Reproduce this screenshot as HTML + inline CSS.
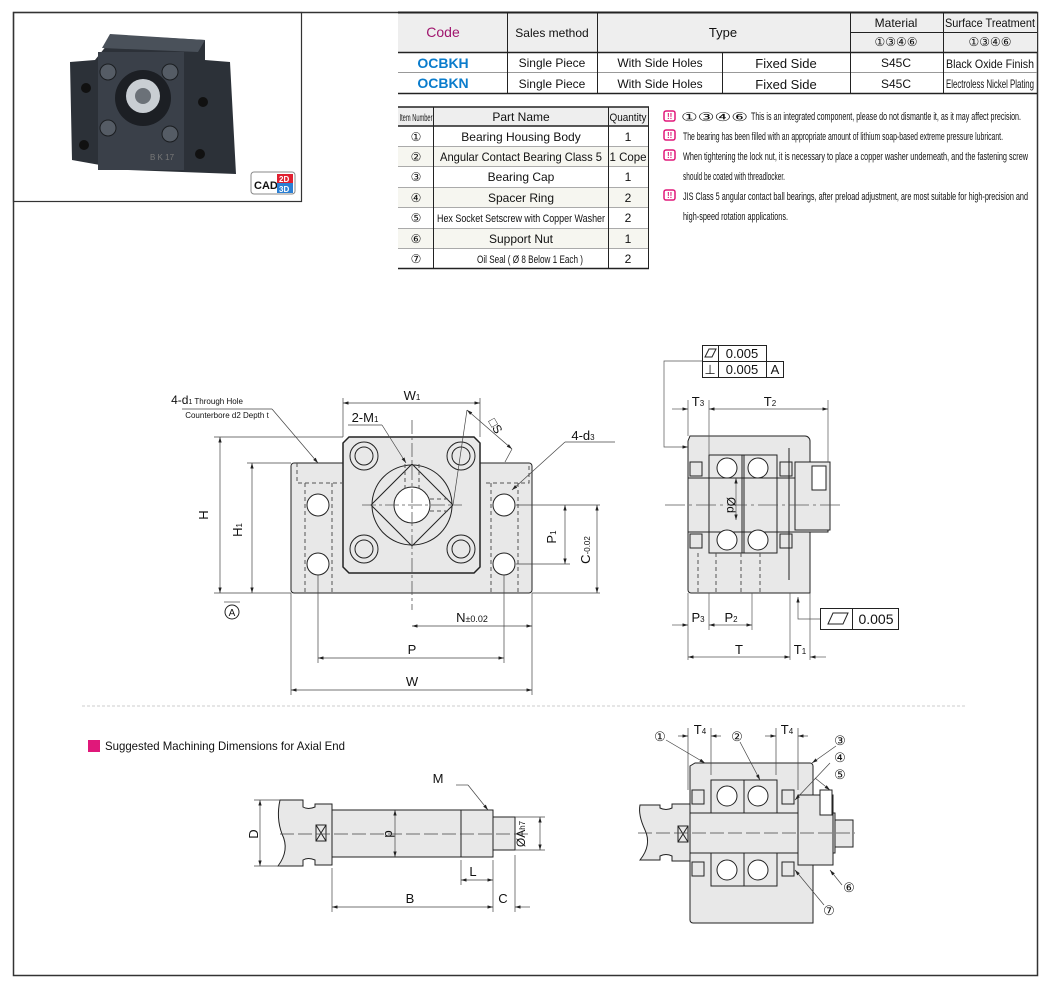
<!DOCTYPE html>
<html><head><meta charset="utf-8"><style>
body{margin:0;background:#fff;}
svg{display:block;font-family:"Liberation Sans",sans-serif;}
</style></head><body>
<svg width="1060" height="996" viewBox="0 0 1060 996" xmlns="http://www.w3.org/2000/svg">
<defs>
<marker id="a" viewBox="0 0 10 6" refX="10" refY="3" markerWidth="8" markerHeight="5" orient="auto-start-reverse"><path d="M0,0L10,3L0,6z" fill="#222"/></marker>
</defs>
<rect x="13.5" y="12.5" width="1024" height="963" fill="none" stroke="#333" stroke-width="1.5"/>
<rect x="13.5" y="12.5" width="288" height="189" fill="none" stroke="#333" stroke-width="1.2"/>
<!-- photo -->
<g>
<polygon points="115,35 205,40 205,60 230,62 236,174 128,170 72,160 70,62 95,60" fill="#2c3138"/>
<rect x="98" y="52" width="86" height="118" fill="#3a4049"/>
<polygon points="110,34 205,40 198,52 102,48" fill="#4a515a"/>
<circle cx="143" cy="98" r="28" fill="#1c1f24"/>
<circle cx="143" cy="96" r="17" fill="#c9ced3"/>
<circle cx="143" cy="96" r="8" fill="#6b7178"/>
<circle cx="108" cy="72" r="8" fill="#555c65" stroke="#1a1d20"/><circle cx="170" cy="72" r="8" fill="#555c65" stroke="#1a1d20"/>
<circle cx="108" cy="128" r="8" fill="#555c65" stroke="#1a1d20"/><circle cx="170" cy="134" r="8" fill="#555c65" stroke="#1a1d20"/>
<circle cx="86" cy="88" r="5" fill="#111"/><circle cx="84" cy="145" r="5" fill="#111"/>
<circle cx="203" cy="102" r="5" fill="#111"/><circle cx="200" cy="154" r="5" fill="#111"/>
<text x="150" y="160" font-size="8" fill="#777">B K 17</text>
<rect x="251" y="172" width="44" height="22" rx="3" fill="#fff" stroke="#888"/>
<text x="254" y="189" font-size="11" font-weight="bold" fill="#111">CAD</text>
<rect x="277" y="174" width="16" height="9" fill="#e02030"/><rect x="277" y="183" width="16" height="10" fill="#2a7fd4"/>
<text x="279" y="182" font-size="8" font-weight="bold" fill="#fff">2D</text><text x="279" y="192" font-size="8" font-weight="bold" fill="#fff">3D</text>
</g>
<!-- top table -->
<g font-size="12" fill="#111" text-anchor="middle">
<rect x="398" y="12" width="639" height="40" fill="#eee"/>
<g stroke="#222" stroke-width="1" fill="none">
<line x1="398" y1="12.5" x2="1037" y2="12.5" stroke-width="2"/>
<line x1="398" y1="52.5" x2="1037" y2="52.5" stroke-width="1.5"/>
<line x1="398" y1="72.5" x2="1037" y2="72.5" stroke="#999"/>
<line x1="398" y1="93.5" x2="1037" y2="93.5" stroke-width="1.5"/>
<line x1="850" y1="32.5" x2="1037" y2="32.5"/>
<line x1="507.5" y1="12" x2="507.5" y2="93"/><line x1="597.5" y1="12" x2="597.5" y2="93"/>
<line x1="722.5" y1="52" x2="722.5" y2="93"/><line x1="850.5" y1="12" x2="850.5" y2="93"/><line x1="943.5" y1="12" x2="943.5" y2="93"/>
</g>
<text x="443" y="37" fill="#a0166e" font-size="14">Code</text>
<text x="552" y="37">Sales method</text>
<text x="723" y="37" font-size="13">Type</text>
<text x="896" y="27">Material</text><text x="990" y="27" font-size="12" textLength="90" lengthAdjust="spacingAndGlyphs">Surface Treatment</text>
<text x="896" y="46">①③④⑥</text><text x="990" y="46">①③④⑥</text>
<g font-weight="bold" fill="#0a7ccc" font-size="14"><text x="443" y="68">OCBKH</text><text x="443" y="88">OCBKN</text></g>
<text x="552" y="67">Single Piece</text><text x="552" y="88">Single Piece</text>
<text x="660" y="67">With Side Holes</text><text x="660" y="88">With Side Holes</text>
<text x="786" y="68" font-size="13">Fixed Side</text><text x="786" y="89" font-size="13">Fixed Side</text>
<text x="896" y="67">S45C</text><text x="896" y="88">S45C</text>
<text x="990" y="68" font-size="12" textLength="88" lengthAdjust="spacingAndGlyphs">Black Oxide Finish</text><text x="990" y="88" font-size="12" textLength="88" lengthAdjust="spacingAndGlyphs">Electroless Nickel Plating</text>
</g>
<!-- parts table -->
<g font-size="12" fill="#111" text-anchor="middle">
<rect x="398" y="107" width="251" height="19" fill="#eee"/>
<rect x="398" y="146" width="251" height="20" fill="#f6f6f0"/><rect x="398" y="187" width="251" height="20" fill="#f6f6f0"/><rect x="398" y="228" width="251" height="20" fill="#f6f6f0"/>
<g stroke="#222" fill="none">
<line x1="398" y1="107" x2="649" y2="107" stroke-width="1.5"/><line x1="398" y1="126" x2="649" y2="126" stroke-width="1.5"/>
<line x1="398" y1="268.5" x2="649" y2="268.5" stroke-width="1.5"/>
<g stroke="#aaa"><line x1="398" y1="146.5" x2="649" y2="146.5"/><line x1="398" y1="166.5" x2="649" y2="166.5"/><line x1="398" y1="187.5" x2="649" y2="187.5"/><line x1="398" y1="207.5" x2="649" y2="207.5"/><line x1="398" y1="228.5" x2="649" y2="228.5"/><line x1="398" y1="248.5" x2="649" y2="248.5"/></g>
<line x1="433.5" y1="107" x2="433.5" y2="268"/><line x1="608.5" y1="107" x2="608.5" y2="268"/><line x1="648.5" y1="107" x2="648.5" y2="268"/>
</g>
<text x="416" y="121" font-size="10" textLength="33" lengthAdjust="spacingAndGlyphs">Item Number</text><text x="521" y="121">Part Name</text><text x="628" y="121" font-size="11" textLength="37" lengthAdjust="spacingAndGlyphs">Quantity</text>
<text x="416" y="141">①</text><text x="521" y="141">Bearing Housing Body</text><text x="628" y="141">1</text>
<text x="416" y="161">②</text><text x="521" y="161" font-size="12" textLength="162" lengthAdjust="spacingAndGlyphs">Angular Contact Bearing Class 5</text><text x="628" y="161" font-size="12" textLength="37" lengthAdjust="spacingAndGlyphs">1 Cope</text>
<text x="416" y="181">③</text><text x="521" y="181">Bearing Cap</text><text x="628" y="181">1</text>
<text x="416" y="202">④</text><text x="521" y="202">Spacer Ring</text><text x="628" y="202">2</text>
<text x="416" y="222">⑤</text><text x="521" y="222" font-size="11" textLength="168" lengthAdjust="spacingAndGlyphs">Hex Socket Setscrew with Copper Washer</text><text x="628" y="222">2</text>
<text x="416" y="243">⑥</text><text x="521" y="243">Support Nut</text><text x="628" y="243">1</text>
<text x="416" y="263">⑦</text><text x="530" y="263" font-size="11" textLength="106" lengthAdjust="spacingAndGlyphs">Oil Seal ( Ø 8 Below 1 Each )</text><text x="628" y="263">2</text>
</g>
<!-- notes -->
<g font-size="11" fill="#111">
<g fill="none" stroke="#e0187a" stroke-width="1.5"><rect x="664" y="111" width="11" height="10" rx="2"/><rect x="664" y="130" width="11" height="10" rx="2"/><rect x="664" y="150" width="11" height="10" rx="2"/><rect x="664" y="190" width="11" height="10" rx="2"/></g>
<g fill="#e0187a" font-size="8" font-weight="bold"><text x="667" y="119">!!</text><text x="667" y="138">!!</text><text x="667" y="158">!!</text><text x="667" y="198">!!</text></g>
<text x="681" y="121" font-size="12" textLength="67" lengthAdjust="spacingAndGlyphs">①③④⑥</text>
<text x="751" y="120" textLength="270" lengthAdjust="spacingAndGlyphs">This is an integrated component, please do not dismantle it, as it may affect precision.</text>
<text x="683" y="140" textLength="320" lengthAdjust="spacingAndGlyphs">The bearing has been filled with an appropriate amount of lithium soap-based extreme pressure lubricant.</text>
<text x="683" y="160" textLength="345" lengthAdjust="spacingAndGlyphs">When tightening the lock nut, it is necessary to place a copper washer underneath, and the fastening screw</text>
<text x="683" y="180" textLength="102" lengthAdjust="spacingAndGlyphs">should be coated with threadlocker.</text>
<text x="683" y="200" textLength="345" lengthAdjust="spacingAndGlyphs">JIS Class 5 angular contact ball bearings, after preload adjustment, are most suitable for high-precision and</text>
<text x="683" y="220" textLength="105" lengthAdjust="spacingAndGlyphs">high-speed rotation applications.</text>
</g>
<!-- front view -->
<g stroke="#222" stroke-width="1" fill="none">
<path d="M294,463H529a3,3 0 0 1 3,3V590a3,3 0 0 1-3,3H294a3,3 0 0 1-3-3V466a3,3 0 0 1 3-3z" fill="#e8e8e8"/>
<path d="M349,437H474L480,443V567L474,573H349L343,567V443z" fill="#e8e8e8" stroke-width="1.5"/>
<circle cx="412" cy="505" r="40"/>
<polygon points="412,464 453,505 412,546 371,505"/>
<circle cx="412" cy="505" r="18" fill="#fff"/>
<g><circle cx="364" cy="456" r="14"/><circle cx="364" cy="456" r="9"/><circle cx="461" cy="456" r="14"/><circle cx="461" cy="456" r="9"/><circle cx="364" cy="549" r="14"/><circle cx="364" cy="549" r="9"/><circle cx="461" cy="549" r="14"/><circle cx="461" cy="549" r="9"/></g>
<g fill="#fff"><circle cx="318" cy="505" r="11"/><circle cx="318" cy="564" r="11"/><circle cx="504" cy="505" r="11"/><circle cx="504" cy="564" r="11"/></g>
<g stroke-dasharray="4,3" stroke="#555"><path d="M297,463V483H342M486,483H529V463"/><line x1="305" y1="483" x2="305" y2="593"/><line x1="332" y1="483" x2="332" y2="593"/><line x1="491" y1="483" x2="491" y2="593"/><line x1="518" y1="483" x2="518" y2="593"/><line x1="405" y1="464" x2="405" y2="490"/><line x1="419" y1="464" x2="419" y2="490"/><path d="M430,499H450M430,511H450"/></g>
<g stroke-dasharray="14,3,3,3" stroke="#555" stroke-width=".8"><line x1="412" y1="420" x2="412" y2="610"/><line x1="362" y1="505" x2="462" y2="505"/></g>
<g stroke="#444" stroke-width=".7">
<line x1="343" y1="437" x2="343" y2="398"/><line x1="480" y1="437" x2="480" y2="398"/>
<line x1="343" y1="403" x2="480" y2="403" marker-start="url(#a)" marker-end="url(#a)"/>
<line x1="343" y1="437" x2="214" y2="437"/><line x1="291" y1="593" x2="214" y2="593"/><line x1="291" y1="463" x2="247" y2="463"/>
<line x1="220" y1="437" x2="220" y2="593" marker-start="url(#a)" marker-end="url(#a)"/>
<line x1="252" y1="463" x2="252" y2="593" marker-start="url(#a)" marker-end="url(#a)"/>
<line x1="516" y1="505" x2="600" y2="505"/><line x1="516" y1="564" x2="570" y2="564"/><line x1="532" y1="593" x2="600" y2="593"/>
<line x1="565" y1="505" x2="565" y2="564" marker-start="url(#a)" marker-end="url(#a)"/>
<line x1="597" y1="505" x2="597" y2="593" marker-start="url(#a)" marker-end="url(#a)"/>
<line x1="291" y1="593" x2="291" y2="695"/><line x1="532" y1="593" x2="532" y2="695"/>
<line x1="318" y1="575" x2="318" y2="663"/><line x1="504" y1="575" x2="504" y2="663"/>
<line x1="412" y1="626" x2="532" y2="626" marker-start="url(#a)" marker-end="url(#a)"/>
<line x1="318" y1="658" x2="504" y2="658" marker-start="url(#a)" marker-end="url(#a)"/>
<line x1="291" y1="690" x2="532" y2="690" marker-start="url(#a)" marker-end="url(#a)"/>
<line x1="182" y1="409" x2="272" y2="409"/><line x1="272" y1="409" x2="318" y2="463" marker-end="url(#a)"/>
<line x1="348" y1="425" x2="382" y2="425"/><line x1="382" y1="425" x2="406" y2="463" marker-end="url(#a)"/>
<line x1="565" y1="442" x2="615" y2="442"/><line x1="565" y1="442" x2="512" y2="490" marker-end="url(#a)"/>
<line x1="453" y1="505" x2="467" y2="410"/><line x1="467" y1="410" x2="512" y2="449" marker-start="url(#a)" marker-end="url(#a)"/><line x1="512" y1="449" x2="505" y2="462"/>
<line x1="224" y1="602" x2="240" y2="602"/>
</g>
</g>
<g font-size="12" fill="#111" text-anchor="middle">
<text x="412" y="400" font-size="13">W<tspan font-size="8">1</tspan></text>
<text x="365" y="422" font-size="13">2-M<tspan font-size="8">1</tspan></text>
<text x="207" y="404" font-size="12">4-d<tspan font-size="7">1</tspan><tspan font-size="8"> Through Hole</tspan></text>
<text x="227" y="418" font-size="8">Counterbore d2 Depth t</text>
<text x="583" y="440" font-size="13">4-d<tspan font-size="8">3</tspan></text>
<text x="492" y="428" transform="rotate(60 492 428)" font-size="12">□S</text>
<text x="208" y="515" transform="rotate(-90 208 515)" font-size="13">H</text>
<text x="242" y="530" transform="rotate(-90 242 530)" font-size="13">H<tspan font-size="8">1</tspan></text>
<text x="556" y="537" transform="rotate(-90 556 537)" font-size="13">P<tspan font-size="8">1</tspan></text>
<text x="590" y="550" transform="rotate(-90 590 550)" font-size="13">C<tspan font-size="8">-0.02</tspan></text>
<text x="472" y="622" font-size="13">N<tspan font-size="9">±0.02</tspan></text>
<text x="412" y="654" font-size="13">P</text>
<text x="412" y="686" font-size="13">W</text>
<circle cx="232" cy="612" r="7" fill="none" stroke="#222"/><text x="232" y="616" font-size="10">A</text>
</g>
<!-- side view -->
<g stroke="#222" stroke-width="1" fill="none">
<path d="M690,436H805a5,5 0 0 1 5,5V593H691a3,3 0 0 1-3-3V441z" fill="#e8e8e8"/>
<path d="M688,478H828V532H688z" fill="#e8e8e8"/>
<path d="M789,448V580" />
<rect x="795" y="462" width="35" height="68" fill="#e8e8e8"/>
<rect x="812" y="466" width="14" height="24" fill="#fff"/>
<g fill="#fff"><circle cx="727" cy="468" r="10"/><circle cx="758" cy="468" r="10"/><circle cx="727" cy="540" r="10"/><circle cx="758" cy="540" r="10"/></g>
<rect x="709" y="455" width="35" height="98"/><rect x="742" y="455" width="35" height="98"/>
<rect x="690" y="462" width="12" height="14"/><rect x="780" y="462" width="12" height="14"/><rect x="690" y="534" width="12" height="14"/><rect x="780" y="534" width="12" height="14"/>
<g stroke-dasharray="4,3" stroke="#555"><line x1="698" y1="553" x2="698" y2="593"/><line x1="716" y1="553" x2="716" y2="593"/><line x1="741" y1="553" x2="741" y2="593"/><line x1="760" y1="553" x2="760" y2="593"/></g>
<g stroke="#555" stroke-width=".7"><line x1="665" y1="505" x2="840" y2="505" stroke-dasharray="20,4,3,4"/>
<line x1="688" y1="400" x2="688" y2="436"/><line x1="709" y1="400" x2="709" y2="455"/><line x1="828" y1="400" x2="828" y2="462"/>
<line x1="672" y1="409" x2="688" y2="409" marker-end="url(#a)"/><line x1="709" y1="409" x2="828" y2="409" marker-start="url(#a)" marker-end="url(#a)"/>
<line x1="688" y1="593" x2="688" y2="660"/><line x1="709" y1="593" x2="709" y2="630"/><line x1="752" y1="593" x2="752" y2="630"/><line x1="790" y1="593" x2="790" y2="660"/><line x1="810" y1="593" x2="810" y2="660"/>
<line x1="672" y1="625" x2="688" y2="625" marker-end="url(#a)"/><line x1="709" y1="625" x2="752" y2="625" marker-start="url(#a)" marker-end="url(#a)"/>
<line x1="688" y1="657" x2="790" y2="657" marker-start="url(#a)" marker-end="url(#a)"/><line x1="810" y1="657" x2="826" y2="657" marker-start="url(#a)"/>
<path d="M702,361H664V447H688" marker-end="url(#a)"/>
<path d="M820,619H798V597" marker-end="url(#a)"/>
<line x1="736" y1="478" x2="736" y2="520" marker-start="url(#a)" marker-end="url(#a)"/>
</g>
<rect x="702.5" y="345.5" width="64" height="16"/><rect x="702.5" y="361.5" width="64" height="16"/><rect x="766.5" y="361.5" width="17" height="16"/>
<line x1="718.5" y1="345" x2="718.5" y2="378"/>
<rect x="820.5" y="608.5" width="78" height="21"/><line x1="852.5" y1="608" x2="852.5" y2="630"/>
<polygon points="705,357 709,349 716,349 712,357"/><polygon points="828,624 833,613 848,613 843,624"/>
</g>
<g font-size="12" fill="#111" text-anchor="middle">
<text x="742" y="358" font-size="13">0.005</text>
<text x="710" y="374" font-size="13">⊥</text><text x="742" y="374" font-size="13">0.005</text><text x="775" y="374" font-size="13">A</text>
<text x="876" y="624" font-size="14">0.005</text>
<text x="698" y="406" font-size="13">T<tspan font-size="8">3</tspan></text>
<text x="770" y="406" font-size="13">T<tspan font-size="8">2</tspan></text>
<text x="698" y="622" font-size="13">P<tspan font-size="8">3</tspan></text>
<text x="731" y="622" font-size="13">P<tspan font-size="8">2</tspan></text>
<text x="739" y="654" font-size="13">T</text>
<text x="800" y="654" font-size="13">T<tspan font-size="8">1</tspan></text>
<text x="727" y="505" transform="rotate(90 727 505)" font-size="12">Ød</text>
</g>
<line x1="82" y1="706" x2="965" y2="706" stroke="#ccc" stroke-dasharray="3,2"/>
<rect x="88" y="740" width="12" height="12" fill="#e0187a"/>
<text x="105" y="750" font-size="12" fill="#111" textLength="240" lengthAdjust="spacingAndGlyphs">Suggested Machining Dimensions for Axial End</text>
<!-- shaft -->
<g stroke="#222" stroke-width="1" fill="#e8e8e8">
<path d="M280,800H303V807Q308,810 315,807V804H332V865H315V860Q308,857 303,860V866H278Q290,850 282,834Q276,818 280,800z"/>
<rect x="332" y="810" width="129" height="47"/>
<rect x="461" y="810" width="32" height="47"/>
<rect x="493" y="817" width="22" height="33"/>
<rect x="316" y="825" width="10" height="16" fill="none"/><path d="M316,825L326,841M326,825L316,841" fill="none"/>
</g>
<g stroke="#444" stroke-width=".7" fill="none">
<line x1="280" y1="834" x2="530" y2="834" stroke-dasharray="14,4"/>
<line x1="254" y1="800" x2="280" y2="800"/><line x1="254" y1="866" x2="280" y2="866"/>
<line x1="260" y1="800" x2="260" y2="866" marker-start="url(#a)" marker-end="url(#a)"/>
<line x1="395" y1="810" x2="395" y2="857" marker-start="url(#a)" marker-end="url(#a)"/>
<line x1="515" y1="817" x2="545" y2="817"/><line x1="515" y1="850" x2="545" y2="850"/>
<line x1="540" y1="817" x2="540" y2="850" marker-start="url(#a)" marker-end="url(#a)"/>
<line x1="456" y1="785" x2="468" y2="785"/><line x1="468" y1="785" x2="488" y2="810" marker-end="url(#a)"/>
<line x1="332" y1="868" x2="332" y2="912"/><line x1="461" y1="860" x2="461" y2="885"/><line x1="493" y1="860" x2="493" y2="912"/><line x1="515" y1="855" x2="515" y2="912"/>
<line x1="461" y1="880" x2="493" y2="880" marker-start="url(#a)" marker-end="url(#a)"/>
<line x1="332" y1="907" x2="493" y2="907" marker-start="url(#a)" marker-end="url(#a)"/>
<line x1="515" y1="907" x2="530" y2="907" marker-start="url(#a)"/>
</g>
<g font-size="13" fill="#111" text-anchor="middle">
<text x="438" y="783">M</text>
<text x="258" y="834" transform="rotate(-90 258 834)">D</text>
<text x="385" y="834" transform="rotate(90 385 834)">d</text>
<text x="525" y="834" transform="rotate(-90 525 834)" font-size="12">ØA<tspan font-size="8">h7</tspan></text>
<text x="473" y="876">L</text><text x="410" y="903">B</text><text x="503" y="903">C</text>
</g>
<!-- assembly -->
<g stroke="#222" stroke-width="1" fill="#e8e8e8">
<path d="M695,763H810a3,3 0 0 1 3,3V923H693a3,3 0 0 1-3-3V766z"/>
<path d="M640,805H660V808Q666,811 672,808V804H690V861H672V856Q666,853 660,856V860H640Q652,845 645,830Q638,815 640,805z"/>
<rect x="690" y="813" width="145" height="40"/>
<rect x="798" y="795" width="35" height="70"/>
<rect x="835" y="820" width="18" height="27"/>
<rect x="820" y="790" width="12" height="25" fill="#fff"/>
<g fill="#fff"><circle cx="727" cy="796" r="10"/><circle cx="758" cy="796" r="10"/><circle cx="727" cy="870" r="10"/><circle cx="758" cy="870" r="10"/></g>
<rect x="711" y="780" width="33" height="33" fill="none"/><rect x="744" y="780" width="33" height="33" fill="none"/>
<rect x="711" y="853" width="33" height="33" fill="none"/><rect x="744" y="853" width="33" height="33" fill="none"/>
<rect x="692" y="790" width="12" height="14"/><rect x="782" y="790" width="12" height="14"/><rect x="692" y="862" width="12" height="14"/><rect x="782" y="862" width="12" height="14"/>
<rect x="678" y="826" width="10" height="16" fill="none"/><path d="M678,826L688,842M688,826L678,842" fill="none"/>
</g>
<g stroke="#444" stroke-width=".7" fill="none">
<line x1="638" y1="833" x2="855" y2="833" stroke-dasharray="14,4"/>
<line x1="688" y1="728" x2="688" y2="790"/><line x1="711" y1="728" x2="711" y2="775"/><line x1="776" y1="728" x2="776" y2="775"/><line x1="798" y1="728" x2="798" y2="790"/>
<line x1="678" y1="736" x2="688" y2="736" marker-end="url(#a)"/><line x1="711" y1="736" x2="721" y2="736" marker-start="url(#a)"/>
<line x1="765" y1="736" x2="776" y2="736" marker-end="url(#a)"/><line x1="798" y1="736" x2="808" y2="736" marker-start="url(#a)"/>
<line x1="666" y1="740" x2="705" y2="763" marker-end="url(#a)"/>
<line x1="740" y1="742" x2="760" y2="780" marker-end="url(#a)"/>
<line x1="836" y1="746" x2="812" y2="763" marker-end="url(#a)"/>
<line x1="830" y1="763" x2="795" y2="800" marker-end="url(#a)"/>
<line x1="815" y1="778" x2="830" y2="790" marker-end="url(#a)"/>
<line x1="842" y1="885" x2="830" y2="870" marker-end="url(#a)"/>
<line x1="824" y1="905" x2="795" y2="870" marker-end="url(#a)"/>
</g>
<g font-size="13" fill="#111" text-anchor="middle">
<text x="700" y="734">T<tspan font-size="8">4</tspan></text><text x="787" y="734">T<tspan font-size="8">4</tspan></text>
<text x="660" y="741">①</text><text x="737" y="741">②</text><text x="840" y="745">③</text><text x="840" y="762">④</text><text x="840" y="779">⑤</text><text x="849" y="892">⑥</text><text x="829" y="915">⑦</text>
</g>
</svg>
</body></html>
